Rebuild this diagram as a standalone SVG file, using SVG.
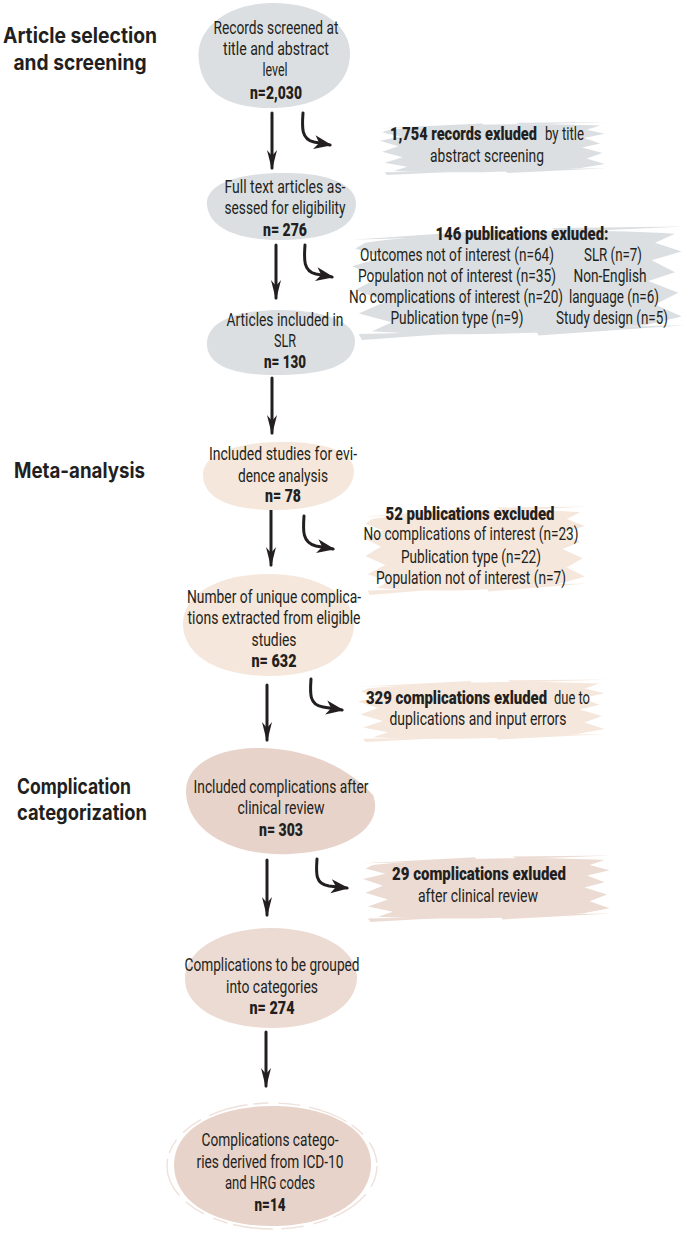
<svg xmlns="http://www.w3.org/2000/svg" xmlns:xlink="http://www.w3.org/1999/xlink" width="685" height="1234" viewBox="0 0 685 1234">
<style>
.t{font-family:"Roboto","Liberation Sans",sans-serif;font-size:18px;fill:#231f20;text-anchor:middle}
.s{text-anchor:start}
.b{font-weight:900}
.h{font-family:"Inter","Roboto","Liberation Sans",sans-serif;font-size:21px;font-weight:700;fill:#231f20}
.gray{fill:#dcdfe2}
.peach{fill:#f5e7dc}
.rose{fill:#e8d3ca}
.rose2{fill:#ecdbd3}
.ln{fill:none;stroke:#231f20;stroke-width:3;stroke-linecap:round}
</style>
<defs>
<symbol id="brush" viewBox="0 0 100 40" preserveAspectRatio="none">
<path d="M4,7 C30,3 70,2 97,4 L91,7 L99,10 L90,13 L97,17 L89,20 L98,24 L91,28 L99,32 L88,35 C60,38 30,39 6,37 L12,34 L2,31 L10,27 L1,23 L8,19 L0,15 L9,12 L1,9 Z"/>
<path d="M0,6 L45,2.5 L46,4.5 Z"/>
<path d="M55,36 L100,35 L56,38.5 Z"/>
<path d="M60,2 L100,1.5 L62,3.5 Z"/>
<path d="M2,38 L40,37 L3,40 Z"/>
</symbol>
<marker id="head" viewBox="0 -6 20 12" refX="18" refY="0" markerWidth="20" markerHeight="12" markerUnits="userSpaceOnUse" orient="auto">
<path d="M0,-5 L20,0 L0,5 L6,0 Z" fill="#231f20"/>
</marker>
<marker id="head2" viewBox="0 -8 18 16" refX="16" refY="0" markerWidth="18" markerHeight="16" markerUnits="userSpaceOnUse" orient="auto">
<path d="M0,-7 L18,0 L0,7 L5,0 Z" fill="#231f20"/>
</marker>
</defs>

<g id="section-titles">
<text class="h" x="80" y="43" text-anchor="middle" textLength="154" lengthAdjust="spacingAndGlyphs">Article selection</text>
<text class="h" x="80" y="70" text-anchor="middle" textLength="133" lengthAdjust="spacingAndGlyphs">and screening</text>
<text class="h" x="14" y="478" textLength="131" lengthAdjust="spacingAndGlyphs">Meta-analysis</text>
<text class="h" x="17" y="794" textLength="114" lengthAdjust="spacingAndGlyphs">Complication</text>
<text class="h" x="17" y="820" textLength="130" lengthAdjust="spacingAndGlyphs">categorization</text>
</g>

<g id="connectors">
<path class="ln" d="M272,113 L272,168" marker-end="url(#head)"/>
<path class="ln" d="M276,245 L276,298" marker-end="url(#head)"/>
<path class="ln" d="M272,378 L272,433" marker-end="url(#head)"/>
<path class="ln" d="M271,510 L271,565" marker-end="url(#head)"/>
<path class="ln" d="M267,685 L267,740" marker-end="url(#head)"/>
<path class="ln" d="M267,860 L267,915" marker-end="url(#head)"/>
<path class="ln" d="M266,1032 L266,1086" marker-end="url(#head)"/>
<path class="ln" d="M303,113 C302,127 301,139 314,142 L330,145" marker-end="url(#head2)"/>
<path class="ln" d="M305,245 C304,259 303,271 316,274 L332,277" marker-end="url(#head2)"/>
<path class="ln" d="M304,516 C303,530 302,543 316,546 L333,549" marker-end="url(#head2)"/>
<path class="ln" d="M311,679 C310,693 309,705 323,707 L342,710" marker-end="url(#head2)"/>
<path class="ln" d="M317,859 C316,873 315,884 329,886 L347,888" marker-end="url(#head2)"/>
</g>

<g id="node-records">
<path class="gray" d="M199,62 C194,30 225,4 270,3 C315,2 349,22 350,52 C351,86 320,107 275,108 C228,109 203,93 199,62 Z"/>
<text class="t" x="276" y="34" textLength="125" lengthAdjust="spacingAndGlyphs">Records screened at</text>
<text class="t" x="276" y="55" textLength="106" lengthAdjust="spacingAndGlyphs">title and abstract</text>
<text class="t" x="275" y="76" textLength="25" lengthAdjust="spacingAndGlyphs">level</text>
<text class="t b" x="276" y="99" textLength="52" lengthAdjust="spacingAndGlyphs">n=2,030</text>
</g>

<g id="excl-1754">
<use href="#brush" x="380" y="120" width="227" height="55" class="gray"/>
<text class="t s b" x="390" y="140" textLength="147" lengthAdjust="spacingAndGlyphs">1,754 records exluded</text>
<text class="t s" x="545" y="140" textLength="39" lengthAdjust="spacingAndGlyphs">by title</text>
<text class="t" x="487" y="162" textLength="114" lengthAdjust="spacingAndGlyphs">abstract screening</text>
</g>

<g id="node-fulltext">
<path class="gray" d="M207,205 C205,183 240,173 282,173 C326,172 357,184 356,204 C355,227 330,239 285,240 C240,241 209,229 207,205 Z"/>
<text class="t" x="285" y="193" textLength="121" lengthAdjust="spacingAndGlyphs">Full text articles as-</text>
<text class="t" x="285" y="214" textLength="121" lengthAdjust="spacingAndGlyphs">sessed for eligibility</text>
<text class="t b" x="285" y="236" textLength="44" lengthAdjust="spacingAndGlyphs">n= 276</text>
</g>

<g id="excl-146">
<use href="#brush" x="352" y="222" width="333" height="118" class="gray"/>
<text class="t b" x="522" y="240" textLength="173" lengthAdjust="spacingAndGlyphs">146 publications exluded:</text>
<text class="t" x="457" y="261" textLength="194" lengthAdjust="spacingAndGlyphs">Outcomes not of interest (n=64)</text>
<text class="t" x="457" y="282" textLength="198" lengthAdjust="spacingAndGlyphs">Population not of interest (n=35)</text>
<text class="t" x="456" y="303" textLength="214" lengthAdjust="spacingAndGlyphs">No complications of interest (n=20)</text>
<text class="t" x="457" y="324" textLength="133" lengthAdjust="spacingAndGlyphs">Publication type (n=9)</text>
<text class="t" x="613" y="261" textLength="58" lengthAdjust="spacingAndGlyphs">SLR (n=7)</text>
<text class="t" x="610" y="282" textLength="73" lengthAdjust="spacingAndGlyphs">Non-English</text>
<text class="t" x="614" y="303" textLength="90" lengthAdjust="spacingAndGlyphs">language (n=6)</text>
<text class="t" x="612" y="324" textLength="112" lengthAdjust="spacingAndGlyphs">Study design (n=5)</text>
</g>

<g id="node-slr">
<path class="gray" d="M207,345 C206,322 235,310 280,310 C325,310 356,322 355,342 C354,366 325,374 282,375 C237,376 208,367 207,345 Z"/>
<text class="t" x="285" y="326" textLength="117" lengthAdjust="spacingAndGlyphs">Articles included in</text>
<text class="t" x="285" y="347" textLength="22" lengthAdjust="spacingAndGlyphs">SLR</text>
<text class="t b" x="285" y="368" textLength="42" lengthAdjust="spacingAndGlyphs">n= 130</text>
</g>

<g id="node-evidence">
<path class="peach" d="M203,476 C202,455 232,443 278,442 C325,441 355,452 354,472 C353,496 322,509 280,510 C232,511 204,499 203,476 Z"/>
<text class="t" x="283" y="460" textLength="148" lengthAdjust="spacingAndGlyphs">Included studies for evi-</text>
<text class="t" x="283" y="482" textLength="90" lengthAdjust="spacingAndGlyphs">dence analysis</text>
<text class="t b" x="283" y="502" textLength="36" lengthAdjust="spacingAndGlyphs">n= 78</text>
</g>

<g id="excl-52">
<use href="#brush" x="363" y="503" width="224" height="92" class="peach"/>
<text class="t b" x="470" y="520" textLength="169" lengthAdjust="spacingAndGlyphs">52 publications excluded</text>
<text class="t" x="471" y="540" textLength="215" lengthAdjust="spacingAndGlyphs">No complications of interest (n=23)</text>
<text class="t" x="471" y="563" textLength="140" lengthAdjust="spacingAndGlyphs">Publication type (n=22)</text>
<text class="t" x="471" y="584" textLength="190" lengthAdjust="spacingAndGlyphs">Population not of interest (n=7)</text>
</g>

<g id="node-unique">
<path class="peach" d="M183,625 C182,592 222,574 268,574 C317,574 354,594 354,624 C354,657 318,676 270,676 C220,676 184,657 183,625 Z"/>
<text class="t" x="274" y="603" textLength="174" lengthAdjust="spacingAndGlyphs">Number of unique complica-</text>
<text class="t" x="274" y="624" textLength="173" lengthAdjust="spacingAndGlyphs">tions extracted from eligible</text>
<text class="t" x="274" y="646" textLength="45" lengthAdjust="spacingAndGlyphs">studies</text>
<text class="t b" x="274" y="667" textLength="45" lengthAdjust="spacingAndGlyphs">n= 632</text>
</g>

<g id="excl-329">
<use href="#brush" x="358" y="677" width="249" height="65" class="peach"/>
<text class="t s b" x="366" y="704" textLength="181" lengthAdjust="spacingAndGlyphs">329 complications exluded</text>
<text class="t s" x="554" y="704" textLength="36" lengthAdjust="spacingAndGlyphs">due to</text>
<text class="t" x="478" y="725" textLength="177" lengthAdjust="spacingAndGlyphs">duplications and input errors</text>
</g>

<g id="node-clinical">
<path class="rose" d="M186,790 C187,762 222,747 262,748 C310,749 350,769 373,795 C384,824 352,851 290,854 C232,857 185,830 186,790 Z"/>
<text class="t" x="281" y="793" textLength="175" lengthAdjust="spacingAndGlyphs">Included complications after</text>
<text class="t" x="281" y="814" textLength="87" lengthAdjust="spacingAndGlyphs">clinical review</text>
<text class="t b" x="281" y="836" textLength="44" lengthAdjust="spacingAndGlyphs">n= 303</text>
</g>

<g id="excl-29">
<use href="#brush" x="363" y="853" width="249" height="69" class="rose2"/>
<text class="t b" x="479" y="880" textLength="174" lengthAdjust="spacingAndGlyphs">29 complications exluded</text>
<text class="t" x="478" y="902" textLength="120" lengthAdjust="spacingAndGlyphs">after clinical review</text>
</g>

<g id="node-grouped">
<path class="rose2" d="M185,980 C184,950 222,928 271,928 C321,928 358,950 357,978 C356,1009 318,1028 272,1028 C224,1028 186,1009 185,980 Z"/>
<text class="t" x="272" y="971" textLength="175" lengthAdjust="spacingAndGlyphs">Complications to be grouped</text>
<text class="t" x="272" y="993" textLength="92" lengthAdjust="spacingAndGlyphs">into categories</text>
<text class="t b" x="272" y="1014" textLength="45" lengthAdjust="spacingAndGlyphs">n= 274</text>
</g>

<g id="node-categories">
<ellipse cx="272" cy="1166" rx="105" ry="63" fill="none" stroke="#e8d3ca" stroke-width="1.4" stroke-opacity="0.7" stroke-dasharray="22 9 40 6 15 10"/>
<path class="rose" d="M174,1166 C173,1128 218,1106 272,1106 C327,1106 371,1128 371,1164 C371,1202 328,1226 272,1226 C216,1226 175,1203 174,1166 Z"/>
<text class="t" x="270" y="1146" textLength="137" lengthAdjust="spacingAndGlyphs">Complications catego-</text>
<text class="t" x="270" y="1168" textLength="147" lengthAdjust="spacingAndGlyphs">ries derived from ICD-10</text>
<text class="t" x="270" y="1189" textLength="90" lengthAdjust="spacingAndGlyphs">and HRG codes</text>
<text class="t b" x="270" y="1211" textLength="31" lengthAdjust="spacingAndGlyphs">n=14</text>
</g>
</svg>
